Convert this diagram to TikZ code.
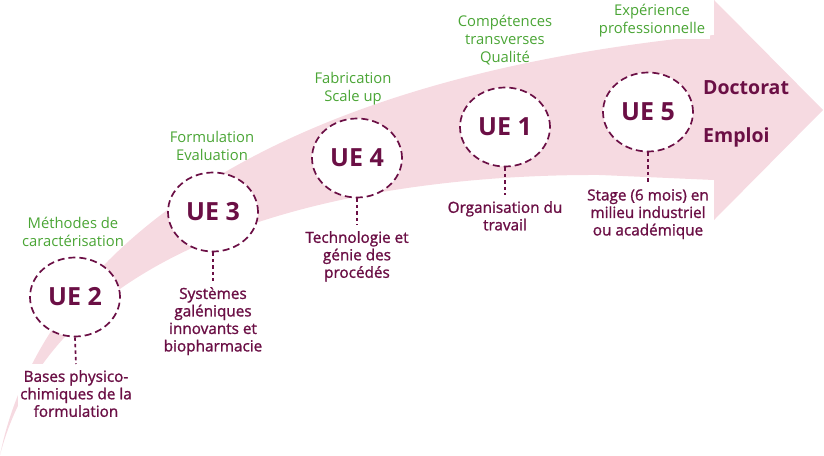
\documentclass[tikz,border=0pt]{standalone}
\usepackage{fontspec}
\setmainfont{Open Sans}
\newfontfamily\descfont{Open Sans}[FakeBold=1.2]
\usetikzlibrary{shapes.geometric}
\definecolor{bandpink}{HTML}{F6DAE1}
\definecolor{uepurple}{HTML}{6B0F45}
\definecolor{labgreen}{HTML}{4AA535}
\tikzset{
  ue/.style={ellipse, draw=uepurple, fill=white, line width=1.7pt,
    dash pattern=on 7pt off 4pt, minimum width=90pt, minimum height=79pt,
    inner sep=0pt, text=uepurple, font=\bfseries\fontsize{25}{25}\selectfont},
  desc/.style={align=center, text=uepurple, fill=white, inner xsep=2.5pt,
    inner ysep=6pt, anchor=north, font=\descfont\fontsize{15.3}{17.5}\selectfont},
  lab/.style={align=center, text=labgreen, inner xsep=5pt,
    inner ysep=2pt, anchor=north, font=\fontsize{14.8}{18}\selectfont},
  outcome/.style={anchor=base west, text=uepurple, inner sep=0pt,
    font=\bfseries\fontsize{19.5}{19.5}\selectfont},
  link/.style={draw=uepurple, line width=1.7pt, dash pattern=on 3.5pt off 3pt}
}
\begin{document}
\begin{tikzpicture}[x=1pt,y=-1pt]
\useasboundingbox (0,0) rectangle (824,455);
% curved arrow band
\fill[bandpink] (0,455) .. controls (40,260) and (250,80) .. (714,35)
  -- (714,0) -- (823,110) -- (714,220) -- (714,180) -- (600,175)
  .. controls (380,174) and (60,225) .. (0,455) -- cycle;
% green labels
\node[lab] (l2) at (73,215) {Méthodes de\\caractérisation};
\node[lab] (l3) at (212,129) {Formulation\\Evaluation};
\node[lab] (l4) at (353,70) {Fabrication\\Scale up};
\node[lab] (l1) at (505,13) {Compétences\\transverses\\Qualité};
\node[lab, fill=white] (l5) at (652,2) {Expérience\\professionnelle};
% UE circles
\node[ue] (ue2) at (75,297) {UE 2};
\node[ue] (ue3) at (213,212) {UE 3};
\node[ue] (ue4) at (357,158) {UE 4};
\node[ue] (ue1) at (505,127) {UE 1};
\node[ue] (ue5) at (648,112) {UE 5};
% descriptions
\node[desc] (d2) at (76,364) {Bases physico-\\chimiques de la\\formulation};
\node[desc] (d3) at (213,281) {Systèmes\\galéniques\\innovants et\\biopharmacie};
\node[desc] (d4) at (357,225) {Technologie et\\génie des\\procédés};
\node[desc] (d1) at (505,195) {Organisation du\\travail};
\node[desc] (d5) at (648,183) {Stage (6 mois) en\\milieu industriel\\ou académique};
% outcomes
\node[outcome] (doc) at (703,94) {Doctorat};
\node[outcome] (emp) at (703,142) {Emploi};
% connectors
\draw[link] (ue2.south) -- (d2.north);
\draw[link] (ue3.south) -- (d3.north);
\draw[link] (ue4.south) -- (d4.north);
\draw[link] (ue1.south) -- (d1.north);
\draw[link] (ue5.south) -- (d5.north);
\end{tikzpicture}
\end{document}
